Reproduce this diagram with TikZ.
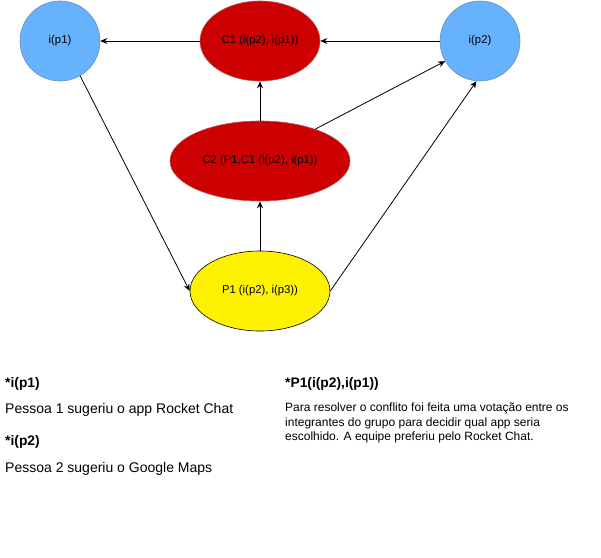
\documentclass[tikz,border=0pt]{standalone}
\usepackage{fontspec}
\setmainfont{Liberation Sans}
\usetikzlibrary{shapes.geometric,arrows.meta}
\definecolor{blu}{HTML}{66B2FF}
\definecolor{bluline}{HTML}{6C8EBF}
\definecolor{redf}{HTML}{CC0000}
\definecolor{redl}{HTML}{B85450}
\begin{document}
\begin{tikzpicture}[x=1pt,y=-1pt,
  ell/.style={ellipse,inner sep=0pt,font=\fontsize{11.3}{13}\selectfont},
  bluenode/.style={ell,fill=blu,draw=bluline,line width=0.6pt,minimum width=80pt,minimum height=80pt},
  rednode/.style={ell,fill=redf,draw=redl,line width=0.6pt,minimum height=80pt},
  yelnode/.style={ell,fill=yellow,draw=black,line width=0.6pt,minimum width=140pt,minimum height=80pt},
  conn/.style={-{Stealth[length=7pt,width=6pt]},line width=0.8pt},
  head/.style={anchor=west,inner sep=0pt,font=\bfseries\fontsize{13.8}{16}\selectfont},
  body/.style={anchor=west,inner sep=0pt,font=\fontsize{14}{17}\selectfont}]
\useasboundingbox (0,0) rectangle (601,557);
\node[bluenode] (ip1) at (60,41) {i(p1)};
\node[rednode,minimum width=120pt] (c1) at (260,41) {C1 (i(p2), i(p1))};
\node[bluenode] (ip2) at (480,41) {i(p2)};
\node[rednode,minimum width=180pt] (c2) at (260,161) {C2 (P1,C1 (i(p2), i(p1))};
\node[yelnode] (p1) at (260,291) {P1 (i(p2), i(p3))};
\draw[conn] (c1) -- (ip1);
\draw[conn] (ip2) -- (c1);
\draw[conn] (c2) -- (c1);
\draw[conn] (c2.30) -- (ip2.210);
\draw[conn] (p1) -- (c2);
\draw[conn] (p1.east) -- (ip2.265);
\draw[conn] (ip1.300) -- (p1.west);
\node[head] (h1) at (5,384) {*i(p1)};
\node[body] (b1) at (5,409.5) {Pessoa 1 sugeriu o app Rocket Chat};
\node[head] (h2) at (5,442) {*i(p2)};
\node[body] (b2) at (5,468.5) {Pessoa 2 sugeriu o Google Maps};
\node[head] (h3) at (285,384) {*P1(i(p2),i(p1))};
\node[anchor=north west,align=left,inner sep=0pt,font=\fontsize{12}{14.2}\selectfont] (b3) at (285,403) {Para resolver o conflito foi feita uma votação entre os\\integrantes do grupo para decidir qual app seria\\escolhido. A equipe preferiu pelo Rocket Chat.};
\end{tikzpicture}
\end{document}
